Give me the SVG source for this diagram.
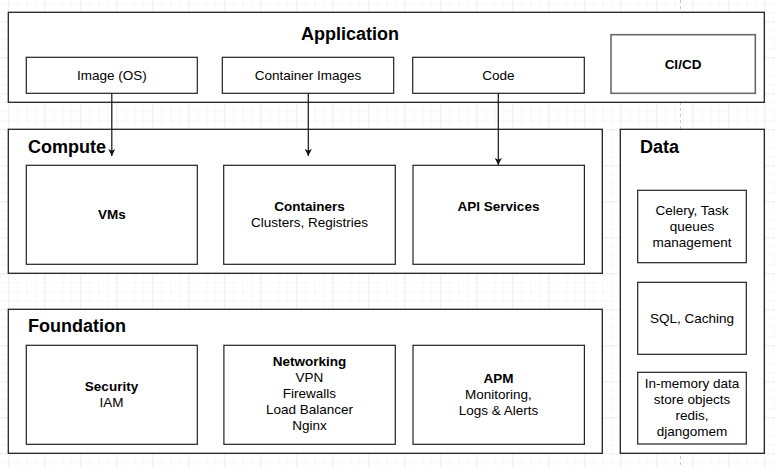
<svg xmlns="http://www.w3.org/2000/svg" width="775" height="468" viewBox="0 0 775 468">
<style>
text{font-family:"Liberation Sans",Arial,Helvetica,sans-serif;fill:#000}
.t{font-size:13.5px;text-anchor:middle}
.b{font-weight:bold}
.h{font-size:18px;font-weight:bold}
.outer{fill:#fff;stroke:#222;stroke-width:1.3}
.box{fill:#fff;stroke:#222;stroke-width:1.2}
.conn{stroke:#111;stroke-width:1.2;fill:none}
</style>
<defs>
<pattern id="minor" x="8.3" y="21.3" width="9" height="9" patternUnits="userSpaceOnUse">
<path d="M9 0H0V9" fill="none" stroke="#f2f2f2" stroke-width="1"/>
</pattern>
<pattern id="major" x="8.3" y="21.3" width="36" height="36" patternUnits="userSpaceOnUse">
<path d="M36 0H0V36" fill="none" stroke="#e4e4e4" stroke-width="1"/>
</pattern>
<marker id="arr" viewBox="0 0 10 10" refX="10" refY="5" markerWidth="7" markerHeight="7" markerUnits="userSpaceOnUse" orient="auto">
<path d="M0 0L10 5L0 10L2.5 5Z" fill="#111"/>
</marker>
</defs>
<rect width="775" height="468" fill="#fff"/>
<rect width="775" height="468" fill="url(#minor)"/>
<rect width="775" height="468" fill="url(#major)"/>
<line x1="680.5" y1="0" x2="680.5" y2="468" stroke="#c8c8c8" stroke-width="1" stroke-dasharray="3,3"/>

<g id="application">
<rect class="outer" x="8.3" y="12.3" width="756" height="90"/>
<text class="h" x="350" y="40" text-anchor="middle">Application</text>
</g>
<g id="image-os">
<rect class="box" x="26.3" y="57.3" width="171" height="36"/>
<text class="t" x="111.8" y="80">Image (OS)</text>
</g>
<g id="container-images">
<rect class="box" x="222.3" y="57.3" width="171.4" height="36"/>
<text class="t" x="308" y="80">Container Images</text>
</g>
<g id="code">
<rect class="box" x="412.7" y="57.3" width="171.6" height="36"/>
<text class="t" x="498.5" y="80">Code</text>
</g>
<g id="cicd">
<rect x="611" y="34.7" width="144.3" height="58.6" fill="#fff" stroke="#6a6a6a" stroke-width="1.6"/>
<text class="t b" x="683" y="68.5">CI/CD</text>
</g>

<g id="compute">
<rect class="outer" x="8.3" y="129.3" width="594" height="144"/>
<text class="h" x="28" y="153">Compute</text>
</g>
<g id="vms">
<rect class="box" x="26.3" y="165.3" width="171" height="99"/>
<text class="t b" x="111.8" y="219">VMs</text>
</g>
<g id="containers">
<rect class="box" x="223.7" y="165.3" width="171.6" height="99"/>
<text class="t b" x="309.5" y="210.5">Containers</text>
<text class="t" x="309.5" y="226.5">Clusters, Registries</text>
</g>
<g id="api-services">
<rect class="box" x="413" y="165.3" width="171.4" height="99"/>
<text class="t b" x="498.5" y="210.5">API Services</text>
</g>

<g id="data">
<rect class="outer" x="620.3" y="129.3" width="144" height="324"/>
<text class="h" x="640" y="152.5">Data</text>
</g>
<g id="celery">
<rect class="box" x="637.7" y="190.3" width="108.6" height="72.4"/>
<text class="t" x="692" y="214.5">Celery, Task</text>
<text class="t" x="692" y="230.5">queues</text>
<text class="t" x="692" y="246.5">management</text>
</g>
<g id="sql">
<rect class="box" x="637.7" y="282.3" width="108.6" height="72"/>
<text class="t" x="692" y="323">SQL, Caching</text>
</g>
<g id="in-memory">
<rect class="box" x="637.7" y="372.3" width="108.6" height="71.7"/>
<text class="t" x="692" y="388">In-memory data</text>
<text class="t" x="692" y="404">store objects</text>
<text class="t" x="692" y="420">redis,</text>
<text class="t" x="692" y="436">djangomem</text>
</g>

<g id="foundation">
<rect class="outer" x="8.3" y="309.3" width="594" height="144"/>
<text class="h" x="28" y="332">Foundation</text>
</g>
<g id="security">
<rect class="box" x="26.3" y="345.3" width="171" height="99"/>
<text class="t b" x="111.5" y="391">Security</text>
<text class="t" x="111.5" y="407">IAM</text>
</g>
<g id="networking">
<rect class="box" x="223.9" y="345.3" width="171.4" height="99"/>
<text class="t b" x="309.5" y="366">Networking</text>
<text class="t" x="309.5" y="382">VPN</text>
<text class="t" x="309.5" y="398">Firewalls</text>
<text class="t" x="309.5" y="414">Load Balancer</text>
<text class="t" x="309.5" y="430">Nginx</text>
</g>
<g id="apm">
<rect class="box" x="413" y="345.3" width="171.4" height="99"/>
<text class="t b" x="498.5" y="382.5">APM</text>
<text class="t" x="498.5" y="398.5">Monitoring,</text>
<text class="t" x="498.5" y="414.5">Logs &amp; Alerts</text>
</g>

<g id="connectors">
<line class="conn" x1="111.8" y1="93.3" x2="111.8" y2="156" marker-end="url(#arr)"/>
<line class="conn" x1="308.3" y1="93.3" x2="308.3" y2="156" marker-end="url(#arr)"/>
<line class="conn" x1="498.3" y1="93.3" x2="498.3" y2="165" marker-end="url(#arr)"/>
</g>
</svg>
